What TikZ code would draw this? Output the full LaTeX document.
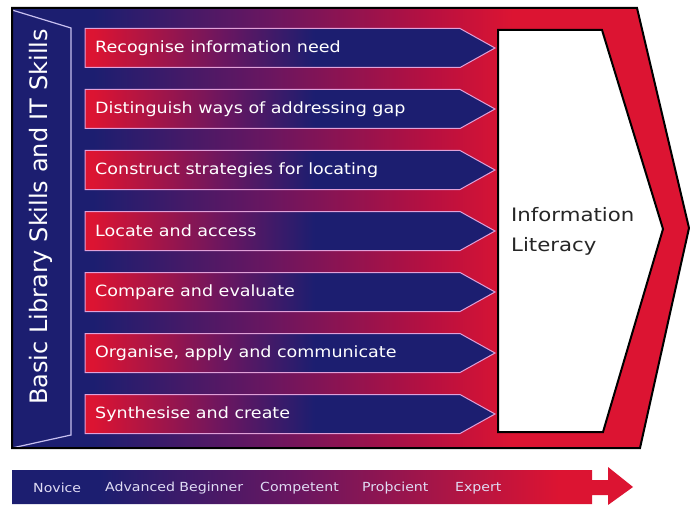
\documentclass[tikz,border=0pt]{standalone}
\usepackage{fontspec}
\setmainfont{DejaVu Sans}
\newfontfamily\rowfont[FakeStretch=1.13]{DejaVu Sans}
\newfontfamily\ilfont[FakeStretch=1.15]{DejaVu Sans}
\definecolor{navyc}{HTML}{1C1E70}
\definecolor{purpc}{HTML}{6A1660}
\definecolor{crimc}{HTML}{B81040}
\definecolor{redc}{HTML}{DC1432}
\definecolor{lavline}{HTML}{C8C0F0}
\definecolor{rowline}{HTML}{E0A0D8}
\definecolor{labc}{HTML}{E0DCF4}
\pgfdeclarehorizontalshading{mainsh}{100bp}{color(0bp)=(navyc); color(31bp)=(navyc); color(44bp)=(purpc); color(56bp)=(crimc); color(62bp)=(redc); color(100bp)=(redc)}
\pgfdeclarehorizontalshading{rowsh}{100bp}{color(0bp)=(redc); color(26bp)=(redc); color(42bp)=(purpc); color(53bp)=(navyc); color(100bp)=(navyc)}
\pgfdeclarehorizontalshading{barsh}{100bp}{color(0bp)=(navyc); color(32bp)=(navyc); color(48bp)=(purpc); color(69bp)=(redc); color(100bp)=(redc)}
\tikzset{
  rowtext/.style={anchor=west, text=white, font=\rowfont\fontsize{15.5}{18}\selectfont, inner sep=0pt},
  rowshape/.style={draw=rowline, line width=1pt, shading=rowsh},
  lvl/.style={text=labc, font=\rowfont\fontsize{12.5}{15}\selectfont, inner sep=0pt, anchor=west}
}
\begin{document}
\begin{tikzpicture}[x=1pt,y=-1pt]
\useasboundingbox (0,0) rectangle (690,505);
% outer chevron
\path[shading=mainsh] (12,8) -- (637,8) -- (689,228) -- (640,448) -- (12,448) -- cycle;
% left band
\path[fill=navyc] (12,8) -- (71,28) -- (71,435) -- (12,448) -- cycle;
\draw[lavline, line width=1.2pt] (12,10) -- (71,28) -- (71,435) -- (12,448);
\draw[black, line width=2pt, line join=miter] (12,8) -- (637,8) -- (689,228) -- (640,448) -- (12,448) -- cycle;
\node[rotate=90, text=white, font=\fontsize{24}{28}\selectfont, inner sep=0pt] (basic) at (41,217) {Basic Library Skills and IT Skills};
% white chevron
\draw[fill=white, draw=black, line width=2pt] (498,30) -- (602,30) -- (663,229) -- (603,432) -- (498,432) -- cycle;
\node[anchor=west, align=left, text=black!85, font=\ilfont\fontsize{18.5}{30}\selectfont, inner sep=0pt] (il) at (511,231) {Information\\Literacy};
% rows
\foreach \c/\t [count=\i] in {48/Recognise information need, 109/Distinguish ways of addressing gap, 170/Construct strategies for locating, 231/Locate and access, 292/Compare and evaluate, 353/{Organise, apply and communicate}, 414/Synthesise and create}{
  \path[rowshape] (85,\c-19.5) -- (460,\c-19.5) -- (495,\c) -- (460,\c+19.5) -- (85,\c+19.5) -- cycle;
  \node[rowtext] (row\i) at (95,\c) {\t};
}
% bottom bar
\path[shading=barsh] (12,470) -- (592,470) -- (592,480) -- (608,480) -- (608,467) -- (633,487) -- (608,505) -- (608,495) -- (592,495) -- (592,504) -- (12,504) -- cycle;
\node[lvl] (l1) at (33,488) {Novice};
\node[lvl] (l2) at (105,488) {Advanced Beginner};
\node[lvl] (l3) at (260,488) {Competent};
\node[lvl] (l4) at (362,488) {Proþcient};
\node[lvl] (l5) at (455,488) {Expert};
\end{tikzpicture}
\end{document}
